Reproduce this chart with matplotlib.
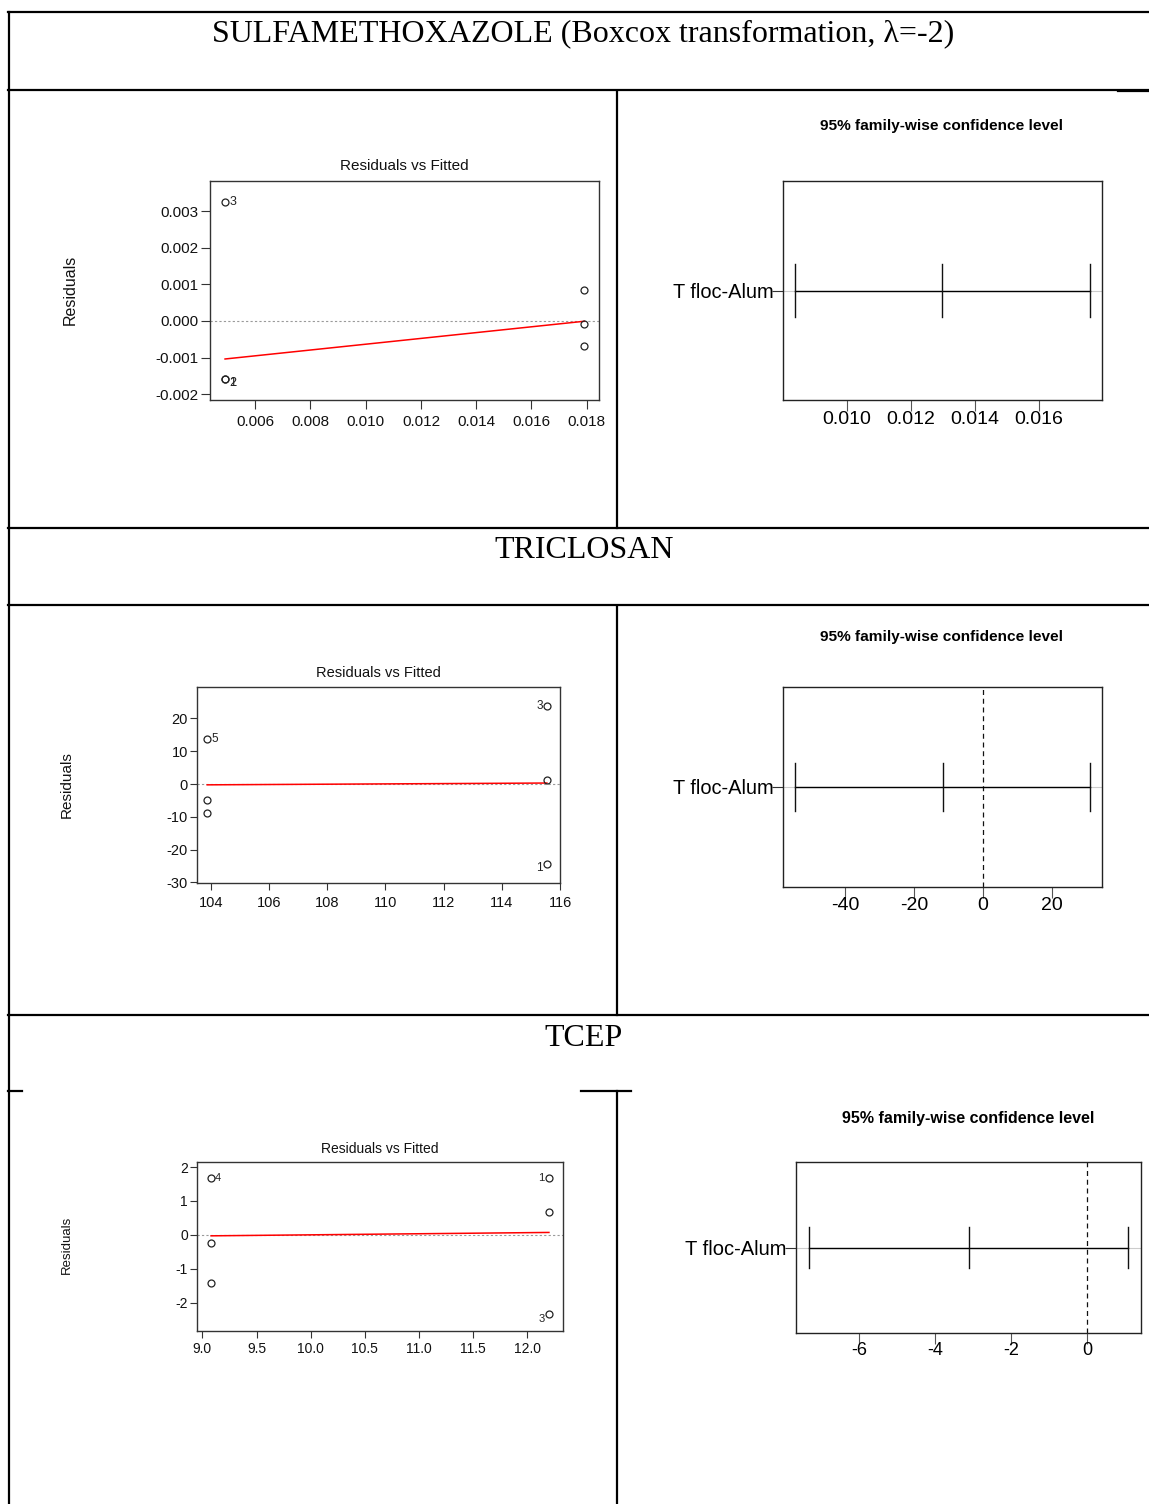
import matplotlib
matplotlib.use('Agg')
import matplotlib.pyplot as plt
from matplotlib import font_manager
from matplotlib.ticker import FormatStrFormatter

plt.rcParams['axes.unicode_minus'] = False
plt.rcParams['font.family'] = ['Liberation Sans', 'DejaVu Sans']

names = {f.name for f in font_manager.fontManager.ttflist}
if 'Liberation Sans Narrow' in names:
    narrow, nscale = 'Liberation Sans Narrow', 1.0
else:
    narrow, nscale = 'Liberation Sans', 0.85

# ---- data ----
section_titles = ['SULFAMETHOXAZOLE (Boxcox transformation, \u03bb=-2)', 'TRICLOSAN', 'TCEP']
comparison = 'T floc-Alum'
obs_ids = ['1', '2', '3', '4', '5', '6']

sulfa_fitted = [0.00491, 0.00491, 0.00491, 0.01791, 0.01791, 0.01791]
sulfa_resid = [-0.00158, -0.00158, 0.00324, 0.00084, -0.00009, -0.00068]
sulfa_labeled = ['1', '2', '3']
sulfa_smooth_x = [0.00491, 0.01791]
sulfa_smooth_y = [-0.00104, -0.00001]
sulfa_tukey = [0.01298, 0.00838, 0.01759]  # diff, lwr, upr

tric_fitted = [115.55, 115.55, 115.55, 103.88, 103.88, 103.88]
tric_resid = [-24.4, 1.2, 23.7, -4.9, 13.7, -8.9]
tric_labeled = ['1', '3', '5']
tric_smooth_x = [103.88, 115.55]
tric_smooth_y = [-0.25, 0.3]
tric_tukey = [-11.7, -54.5, 31.1]

tcep_fitted = [12.2, 12.2, 12.2, 9.08, 9.08, 9.08]
tcep_resid = [1.69, 0.67, -2.35, 1.67, -0.24, -1.42]
tcep_labeled = ['1', '3', '4']
tcep_smooth_x = [9.08, 12.2]
tcep_smooth_y = [-0.03, 0.07]
tcep_tukey = [-3.12, -7.32, 1.08]

W, H = 1149, 1504
fig = plt.figure(figsize=(W / 100, H / 100), dpi=100)
fig.patch.set_facecolor('white')


def box(l, t, r, b):
    return fig.add_axes([l / W, 1 - b / H, (r - l) / W, (b - t) / H])


def ftext(x, y, s, **kw):
    fig.text(x / W, 1 - y / H, s, ha='center', va='center', **kw)


# table rules
grid = fig.add_axes([0, 0, 1, 1])
grid.set_xlim(0, W)
grid.set_ylim(H, 0)
grid.axis('off')
lw = 1.6
for y in [12, 90, 528, 605, 1015]:
    grid.plot([8, W], [y, y], color='black', lw=lw)
grid.plot([8, 22], [1091, 1091], color='black', lw=lw)
grid.plot([581, 631], [1091, 1091], color='black', lw=lw)
grid.plot([1118, W], [91, 91], color='black', lw=lw)
grid.plot([9, 9], [12, H], color='black', lw=lw)
for y0, y1 in [(91, 528), (606, 1015), (1091, H)]:
    grid.plot([617, 617], [y0, y1], color='black', lw=lw)

for (x, y), s in zip([(583, 34), (584, 551), (584, 1038)], section_titles):
    ftext(x, y, s, fontsize=23, family=['Liberation Serif', 'DejaVu Serif'])


def resid_panel(rect, fitted, resid, labeled, sx, sy, xlim, ylim, xticks, yticks,
                xfmt, yfmt, fs, tl, xpad, title_xy, ylab_xy, ylab_fs):
    ax = box(*rect)
    ax.axhline(0, color='#9a9a9a', lw=0.8, ls=(0, (2, 2)))
    ax.plot(sx, sy, color='red', lw=1.1)
    ax.plot(fitted, resid, 'o', mfc='none', mec='#222222', mew=0.9, ms=5)
    mid = (xlim[0] + xlim[1]) / 2
    low = min(resid)
    for x, r, oid in zip(fitted, resid, obs_ids):
        if oid not in labeled:
            continue
        dx = 3 if x < mid else -3
        dy = -3 if r == low else 0
        ax.annotate(oid, (x, r), xytext=(dx, dy), textcoords='offset points',
                    ha='left' if x < mid else 'right', va='center',
                    fontsize=fs - 2, color='#222222')
    ax.set_xlim(xlim)
    ax.set_ylim(ylim)
    ax.set_xticks(xticks)
    ax.set_yticks(yticks)
    ax.xaxis.set_major_formatter(FormatStrFormatter(xfmt))
    ax.yaxis.set_major_formatter(FormatStrFormatter(yfmt))
    ax.tick_params(direction='out', length=tl, width=0.8, color='#333333',
                   labelsize=fs, pad=1.5, labelcolor='#111111')
    ax.tick_params(axis='x', pad=xpad)
    for sp in ax.spines.values():
        sp.set_color('#333333')
        sp.set_linewidth(1.0)
    ftext(*title_xy, 'Residuals vs Fitted', fontsize=fs, color='#111111')
    ftext(*ylab_xy, 'Residuals', fontsize=ylab_fs, rotation=90, color='#111111')
    return ax


def tukey_panel(rect, ci, xlim, xticks, xfmt, fs, lab_fs, xpad, title_xy, title_fs, fam):
    diff, lwr, upr = ci
    ax = box(*rect)
    ax.axhline(1, color='#cccccc', lw=0.8)
    if xlim[0] < 0 < xlim[1]:
        ax.axvline(0, color='#111111', lw=0.9, ls=(0, (4, 3)))
    ax.plot([lwr, upr], [1, 1], color='black', lw=1.0)
    for v in [lwr, diff, upr]:
        ax.plot([v, v], [0.88, 1.12], color='#111111', lw=1.0)
    ax.set_xlim(xlim)
    ax.set_ylim(0.5, 1.5)
    ax.set_xticks(xticks)
    ax.xaxis.set_major_formatter(FormatStrFormatter(xfmt))
    ax.set_yticks([1])
    ax.set_yticklabels([comparison])
    ax.tick_params(axis='x', direction='out', length=8, width=0.8, color='#555555',
                   labelsize=fs, pad=xpad)
    ax.tick_params(axis='y', direction='out', length=8, width=0.8, color='#333333',
                   labelsize=lab_fs, pad=-1)
    for lab in ax.get_xticklabels() + ax.get_yticklabels():
        lab.set_family(fam)
    for sp in ax.spines.values():
        sp.set_color('#222222')
        sp.set_linewidth(1.0)
    ftext(*title_xy, '95% family-wise confidence level', fontsize=title_fs,
          fontweight='bold', family=fam)
    return ax


resid_panel((210, 181, 599, 400), sulfa_fitted, sulfa_resid, sulfa_labeled,
            sulfa_smooth_x, sulfa_smooth_y, (0.004365, 0.018444), (-0.00216, 0.00382),
            [0.006, 0.008, 0.010, 0.012, 0.014, 0.016, 0.018],
            [-0.002, -0.001, 0.000, 0.001, 0.002, 0.003], '%.3f', '%.3f',
            11, 6.5, 4.0, (404, 166), (70, 290), 11.5)

resid_panel((197, 687, 560, 883), tric_fitted, tric_resid, tric_labeled,
            tric_smooth_x, tric_smooth_y, (103.53, 116.0), (-30.2, 29.6),
            [104, 106, 108, 110, 112, 114, 116], [-30, -20, -10, 0, 10, 20],
            '%d', '%d', 10.5, 5, 4.5, (378, 673), (67, 785), 11)

resid_panel((197, 1162, 563, 1331), tcep_fitted, tcep_resid, tcep_labeled,
            tcep_smooth_x, tcep_smooth_y, (8.95, 12.33), (-2.84, 2.15),
            [9.0, 9.5, 10.0, 10.5, 11.0, 11.5, 12.0], [-2, -1, 0, 1, 2],
            '%.1f', '%d', 10, 5, 3.0, (380, 1149), (67, 1245), 9.5)

tukey_panel((783, 181, 1102, 400), sulfa_tukey, (0.008, 0.01797),
            [0.010, 0.012, 0.014, 0.016], '%.3f', 16.5 * nscale, 17 * nscale, 0,
            (942, 126), 13 * nscale, [narrow, 'DejaVu Sans'])

tukey_panel((783, 687, 1102, 887), tric_tukey, (-58.1, 34.5),
            [-40, -20, 0, 20], '%d', 16.5 * nscale, 17 * nscale, -1,
            (942, 637), 13 * nscale, [narrow, 'DejaVu Sans'])

tukey_panel((796, 1162, 1141, 1333), tcep_tukey, (-7.67, 1.413),
            [-6, -4, -2, 0], '%d', 13, 14.5, -1.5,
            (968, 1118), 11.5, ['Liberation Sans', 'DejaVu Sans'])

fig.savefig('out.png', dpi=100, facecolor='white')
